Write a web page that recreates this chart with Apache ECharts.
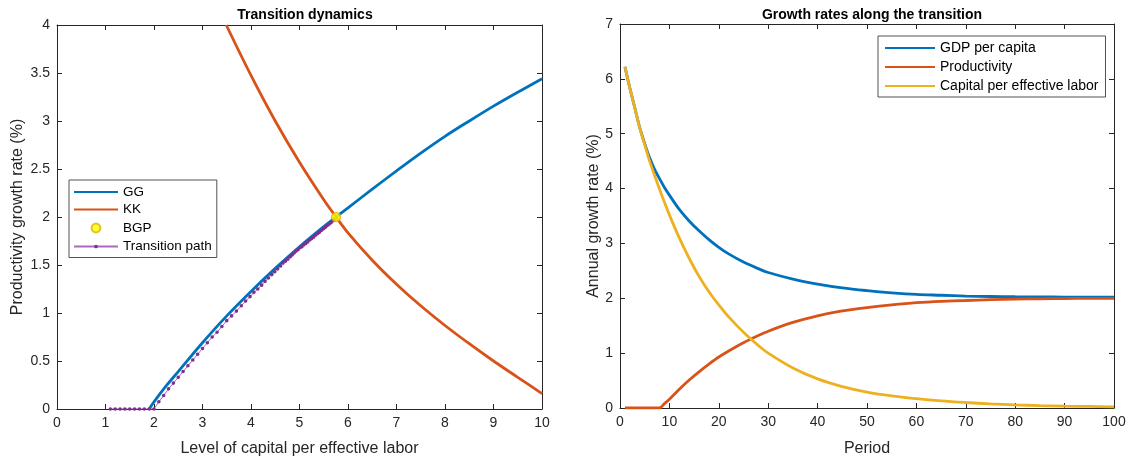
<!DOCTYPE html>
<html><head><meta charset="utf-8">
<script src="https://cdn.jsdelivr.net/npm/echarts@6/dist/echarts.min.js"></script>
<style>html,body{margin:0;padding:0;background:#fff}#c{width:1133px;height:462px}</style>
</head><body><div id="c"></div>
<script>
// ---- Left panel data ----
const ggK = [1.9, 2.0, 2.25, 2.5, 3.0, 3.5, 4.0, 4.5, 5.0, 5.5, 5.755, 6.0, 6.5, 7.0, 7.5, 8.0, 8.5, 9.0, 9.5, 10.0];
const ggG = [0, 0.075, 0.24, 0.39, 0.69, 0.97, 1.225, 1.465, 1.69, 1.90, 2.0, 2.095, 2.29, 2.48, 2.665, 2.84, 3.0, 3.155, 3.30, 3.44];
const kkK = [3.49, 4.0, 4.5, 5.0, 5.5, 5.755, 6.0, 6.5, 7.0, 7.5, 8.0, 8.5, 9.0, 9.5, 10.0];
const kkG = [4.0, 3.475, 3.0, 2.57, 2.18, 2.0, 1.835, 1.55, 1.30, 1.075, 0.87, 0.68, 0.50, 0.33, 0.16];
const bgpK = [5.755];
const bgpG = [2.0];
const pathK = [1.10,1.20,1.30,1.40,1.50,1.60,1.70,1.80,1.90,2.00,2.10,2.20,2.30,2.40,2.50,2.60,2.70,2.80,2.90,3.00,
  3.10,3.20,3.30,3.40,3.50,3.60,3.70,3.80,3.89,3.98,4.06,4.14,4.22,4.29,4.36,4.43,4.49,4.55,4.61,4.66,4.71,4.76,
  4.81,4.85,4.89,4.93,4.97,5.01,5.05,5.09,5.13,5.17,5.21,5.25,5.29,5.33,5.37,5.41,5.45,5.49,5.53,5.57,5.61,5.65,
  5.69,5.72,5.74,5.755];
const pathG = [0,0,0,0,0,0,0,0,0,0,0.075,0.14,0.21,0.27,0.33,0.39,0.45,0.51,0.57,0.63,
  0.69,0.75,0.80,0.86,0.92,0.97,1.02,1.075,1.125,1.17,1.215,1.25,1.29,1.33,1.365,1.40,1.43,1.46,1.49,1.52,1.54,1.56,
  1.585,1.605,1.625,1.645,1.66,1.68,1.69,1.71,1.725,1.74,1.76,1.775,1.79,1.81,1.825,1.84,1.86,1.875,1.89,1.91,1.925,1.94,
  1.96,1.97,1.98,1.99];

// ---- Right panel data ----
const periods = [1,2,3,4,5,6,7,8,9,10,12,14,16,18,20,22,25,28,30,35,40,45,50,55,60,65,70,75,80,85,90,95,100];
const gdpPc   = [6.22,5.83,5.47,5.11,4.82,4.56,4.35,4.18,4.02,3.88,3.62,3.41,3.23,3.07,2.93,2.81,2.66,2.54,2.47,2.35,2.26,2.19,2.14,2.10,2.07,2.055,2.04,2.033,2.028,2.025,2.022,2.021,2.02];
const product = [0,0,0,0,0,0,0,0,0.08,0.16,0.34,0.51,0.66,0.80,0.93,1.04,1.19,1.32,1.40,1.56,1.68,1.77,1.83,1.88,1.92,1.945,1.96,1.975,1.985,1.99,1.995,1.998,2.0];
const capEff  = [6.22,5.83,5.47,5.10,4.80,4.50,4.24,3.99,3.75,3.52,3.10,2.73,2.40,2.12,1.88,1.66,1.38,1.14,1.00,0.73,0.53,0.39,0.29,0.22,0.17,0.13,0.10,0.075,0.057,0.045,0.035,0.028,0.022];

const leftXTicks = {min: 0, max: 10, interval: 1};
const leftYTicks = {min: 0, max: 4, interval: 0.5};
const rightXTicks = {min: 0, max: 100, interval: 10};
const rightYTicks = {min: 0, max: 7, interval: 1};

const FONT = 'Liberation Sans, Arial, Helvetica, sans-serif';
const AX = '#262626';
const C_BLUE = '#0072BD', C_ORANGE = '#D95319', C_YELLOW = '#EDB120', C_PURPLE = '#7E2F8E';
// small dot inside a larger invisible box (keeps dot small in legend)
const DOT = 'path://M0,0L0.01,0Z M5,3.35A1.65,1.65,0,1,1,4.99,3.35Z M10,10L10.01,10Z';
const RING = 'path://M0,0L0.01,0Z M7,2.6A4.4,4.4,0,1,1,6.99,2.6Z M14,14L14.01,14Z';

function zip(a, b) { return a.map((v, i) => [v, b[i]]); }

function axis(gridIndex, ticks, extra, secondary) {
  return Object.assign({
    type: 'value', gridIndex: gridIndex,
    min: ticks.min, max: ticks.max, interval: ticks.interval,
    axisLine: {show: true, onZero: false, lineStyle: {color: AX, width: 1}},
    axisTick: {show: true, inside: true, length: 5, lineStyle: {color: AX}},
    axisLabel: {show: !secondary, color: AX, fontSize: 14, fontFamily: FONT, margin: 7},
    splitLine: {show: false},
    nameTextStyle: {color: AX, fontSize: 16, fontFamily: FONT}
  }, extra || {});
}

const hideSym = {opacity: 0};

const chart = echarts.init(document.getElementById('c'), null, {renderer: 'canvas'});
chart.setOption({
  animation: false,
  backgroundColor: '#fff',
  title: [
    {text: 'Transition dynamics', left: 300, top: 3, textAlign: 'center',
     textStyle: {fontSize: 14, fontWeight: 'bold', color: '#000', fontFamily: FONT}},
    {text: 'Growth rates along the transition', left: 867, top: 3, textAlign: 'center',
     textStyle: {fontSize: 14, fontWeight: 'bold', color: '#000', fontFamily: FONT}}
  ],
  grid: [
    {left: 57, right: 591, top: 25, bottom: 52, containLabel: false},
    {left: 620, right: 19, top: 24, bottom: 51, containLabel: false}
  ],
  xAxis: [
    axis(0, leftXTicks, {name: 'Level of capital per effective labor', nameLocation: 'middle', nameGap: 32}),
    axis(0, leftXTicks, {position: 'top'}, true),
    axis(1, rightXTicks, {name: 'Period', nameLocation: 'middle', nameGap: 33}),
    axis(1, rightXTicks, {position: 'top'}, true)
  ],
  yAxis: [
    axis(0, leftYTicks, {name: 'Productivity growth rate (%)', nameLocation: 'middle', nameGap: 31}),
    axis(0, leftYTicks, {position: 'right'}, true),
    axis(1, rightYTicks, {name: 'Annual growth rate (%)', nameLocation: 'middle', nameGap: 18}),
    axis(1, rightYTicks, {position: 'right'}, true)
  ],
  legend: [
    {data: [{name: 'GG', itemStyle: hideSym}, {name: 'KK', itemStyle: hideSym},
            {name: 'BGP', icon: RING}, {name: 'Transition path'}],
     orient: 'vertical', left: 69, top: 180,
     padding: [5, 5, 4, 4], itemGap: 3.5, itemWidth: 44, itemHeight: 14,
     borderColor: AX, borderWidth: 0.8, backgroundColor: '#fff',
     textStyle: {fontSize: 13.5, color: '#000', fontFamily: FONT}},
    {data: [{name: 'GDP per capita', itemStyle: hideSym}, {name: 'Productivity', itemStyle: hideSym},
            {name: 'Capital per effective labor', itemStyle: hideSym}],
     orient: 'vertical', left: 878, top: 36,
     padding: [5, 7, 4, 6], itemGap: 5, itemWidth: 50, itemHeight: 14,
     borderColor: AX, borderWidth: 0.8, backgroundColor: '#fff',
     textStyle: {fontSize: 14, color: '#000', fontFamily: FONT}}
  ],
  series: [
    {name: 'GG', type: 'line', xAxisIndex: 0, yAxisIndex: 0, data: zip(ggK, ggG), smooth: 0.35,
     symbol: 'none', lineStyle: {color: C_BLUE, width: 2.8}, itemStyle: {color: C_BLUE}, z: 3},
    {name: 'KK', type: 'line', xAxisIndex: 0, yAxisIndex: 0, data: zip(kkK, kkG), smooth: 0.35,
     symbol: 'none', lineStyle: {color: C_ORANGE, width: 2.8}, itemStyle: {color: C_ORANGE}, z: 3},
    {name: 'Transition path', type: 'line', xAxisIndex: 0, yAxisIndex: 0, data: zip(pathK, pathG),
     symbol: DOT, symbolSize: 11, showSymbol: true, symbolKeepAspect: true,
     lineStyle: {color: '#A66BBF', width: 1}, itemStyle: {color: C_PURPLE}, z: 4},
    {name: 'BGP', type: 'scatter', xAxisIndex: 0, yAxisIndex: 0, data: zip(bgpK, bgpG),
     symbol: RING, symbolSize: 14, symbolKeepAspect: true,
     itemStyle: {color: '#FFFF00', borderColor: '#E0B000', borderWidth: 1.5}, z: 5},
    {name: 'GDP per capita', type: 'line', xAxisIndex: 2, yAxisIndex: 2, data: zip(periods, gdpPc), smooth: 0.35,
     symbol: 'none', lineStyle: {color: C_BLUE, width: 2.8}, itemStyle: {color: C_BLUE}, z: 3},
    {name: 'Productivity', type: 'line', xAxisIndex: 2, yAxisIndex: 2, data: zip(periods, product), smooth: 0.25,
     symbol: 'none', lineStyle: {color: C_ORANGE, width: 2.8}, itemStyle: {color: C_ORANGE}, z: 4},
    {name: 'Capital per effective labor', type: 'line', xAxisIndex: 2, yAxisIndex: 2, data: zip(periods, capEff), smooth: 0.35,
     symbol: 'none', lineStyle: {color: C_YELLOW, width: 2.8}, itemStyle: {color: C_YELLOW}, z: 5}
  ]
});
</script></body></html>
